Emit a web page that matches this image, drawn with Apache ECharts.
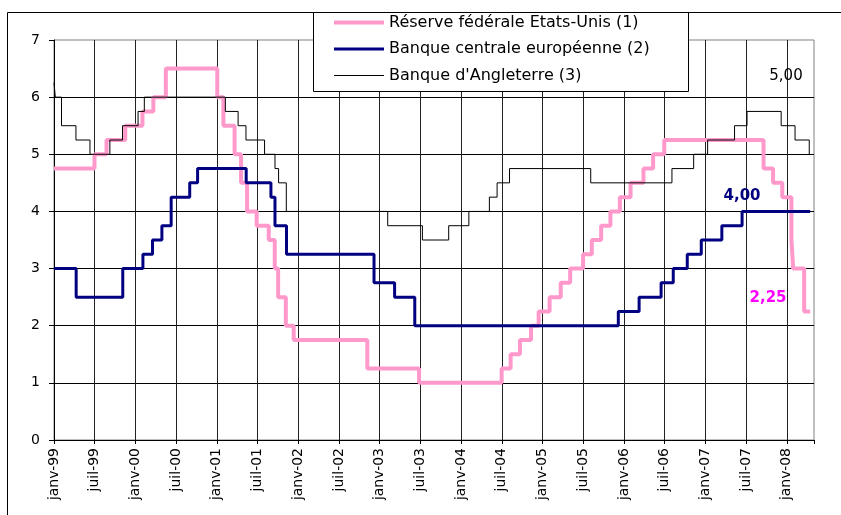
<!DOCTYPE html>
<html>
<head>
<meta charset="utf-8">
<script src="https://cdn.jsdelivr.net/npm/echarts@6/dist/echarts.min.js"></script>
<style>
  html, body { margin: 0; padding: 0; background: #fff; }
  #chart { width: 841px; height: 515px; }
</style>
</head>
<body>
<div id="chart"></div>
<script>
// dates of rate changes and the new rate, last entry = end of data
var fedDates = ['1999-01-01','1999-06-30','1999-08-24','1999-11-16','2000-02-02','2000-03-21','2000-05-16',
  '2001-01-03','2001-01-31','2001-03-20','2001-04-18','2001-05-15','2001-06-27','2001-08-21','2001-09-17',
  '2001-10-02','2001-11-06','2001-12-11','2002-11-06','2003-06-25','2004-06-30','2004-08-10','2004-09-21',
  '2004-11-10','2004-12-14','2005-02-02','2005-03-22','2005-05-03','2005-06-30','2005-08-09','2005-09-20',
  '2005-11-01','2005-12-13','2006-01-31','2006-03-28','2006-05-10','2006-06-29','2007-09-18','2007-10-31',
  '2007-12-11','2008-01-22','2008-01-30','2008-03-18','2008-04-14'];
var fedRates = [4.75,5.00,5.25,5.50,5.75,6.00,6.50,
  6.00,5.50,5.00,4.50,4.00,3.75,3.50,3.00,
  2.50,2.00,1.75,1.25,1.00,1.25,1.50,1.75,
  2.00,2.25,2.50,2.75,3.00,3.25,3.50,3.75,
  4.00,4.25,4.50,4.75,5.00,5.25,4.75,4.50,
  4.25,3.50,3.00,2.25,2.25];

var ecbDates = ['1999-01-01','1999-04-09','1999-11-05','2000-02-04','2000-03-17','2000-04-28','2000-06-09',
  '2000-09-01','2000-10-06','2001-05-11','2001-08-31','2001-09-18','2001-11-09','2002-12-06','2003-03-07',
  '2003-06-06','2005-12-06','2006-03-08','2006-06-15','2006-08-09','2006-10-11','2006-12-13','2007-03-14',
  '2007-06-13','2008-04-14'];
var ecbRates = [3.00,2.50,3.00,3.25,3.50,3.75,4.25,
  4.50,4.75,4.50,4.25,3.75,3.25,2.75,2.50,
  2.00,2.25,2.50,2.75,3.00,3.25,3.50,3.75,
  4.00,4.00];

var boeDates = ['1999-01-01','1999-01-07','1999-02-04','1999-04-08','1999-06-10','1999-09-08','1999-11-04',
  '2000-01-13','2000-02-10','2001-02-08','2001-04-05','2001-05-10','2001-08-02','2001-09-18','2001-10-04',
  '2001-11-08','2003-02-06','2003-07-10','2003-11-06','2004-02-05','2004-05-06','2004-06-10','2004-08-05',
  '2005-08-04','2006-08-03','2006-11-09','2007-01-11','2007-05-10','2007-07-05','2007-12-06','2008-02-07',
  '2008-04-10','2008-04-14'];
var boeRates = [6.25,6.00,5.50,5.25,5.00,5.25,5.50,
  5.75,6.00,5.75,5.50,5.25,5.00,4.75,4.50,
  4.00,3.75,3.50,3.75,4.00,4.25,4.50,4.75,
  4.50,4.75,5.00,5.25,5.50,5.75,5.50,5.25,
  5.00,5.00];

var seriesNames = ['Réserve fédérale Etats-Unis (1)', 'Banque centrale européenne (2)', "Banque d'Angleterre (3)"];
var lastLabels = ['2,25', '4,00', '5,00'];
var monthNames = ['janv', 'juil'];

var FONT = 'DejaVu Sans';

// months since janv-99 (fraction of month for the day)
function monthIndex(s) {
    var p = s.split('-');
    var y = +p[0], m = +p[1], d = +p[2];
    var days = new Date(y, m, 0).getDate();
    return (y - 1999) * 12 + (m - 1) + (d - 1) / days;
}
function toPoints(dates, rates) {
    return dates.map(function (d, i) { return [monthIndex(d), rates[i]]; });
}

var chart = echarts.init(document.getElementById('chart'));

var option = {
    backgroundColor: '#fff',
    animation: false,
    grid: {
        left: 54, top: 40, right: 27, bottom: 75,
        show: true, borderColor: '#808080', borderWidth: 1
    },
    legend: {
        orient: 'vertical',
        left: 332, top: 14,
        padding: 0,
        itemWidth: 50, itemHeight: 14, itemGap: 9.5,
        selectedMode: false,
        itemStyle: { opacity: 0 },
        textStyle: { fontFamily: FONT, fontSize: 16, lineHeight: 17, color: '#000' },
        data: [
            { name: seriesNames[0], lineStyle: { width: 4, opacity: 1 } },
            { name: seriesNames[1], lineStyle: { width: 3, opacity: 1 } },
            { name: seriesNames[2], lineStyle: { width: 1, opacity: 1 } }
        ]
    },
    xAxis: {
        type: 'value',
        min: 0, max: 112, interval: 6,
        axisLine: { lineStyle: { color: '#000', width: 1 } },
        axisTick: { length: 4, lineStyle: { color: '#000' } },
        axisLabel: {
            rotate: 90, margin: 8, color: '#000',
            fontFamily: FONT, fontSize: 14,
            formatter: function (v) {
                if (v % 6 !== 0) return '';
                var yr = (1999 + Math.floor(v / 12)) % 100;
                return monthNames[(v % 12) / 6] + '-' + (yr < 10 ? '0' + yr : yr);
            }
        },
        splitLine: { show: true, showMaxLine: false, lineStyle: { color: '#222', width: 1 } }
    },
    yAxis: {
        type: 'value',
        min: 0, max: 7, interval: 1,
        axisLine: { show: true, lineStyle: { color: '#000', width: 1 } },
        axisTick: { show: true, length: 5, lineStyle: { color: '#000' } },
        axisLabel: { margin: 14, color: '#000', fontFamily: FONT, fontSize: 14 },
        splitLine: { show: true, showMaxLine: false, lineStyle: { color: '#000', width: 1 } }
    },
    series: [
        {
            name: seriesNames[0], type: 'line', step: 'end', symbol: 'none', z: 3,
            lineStyle: { color: '#FF99CC', width: 4 }, itemStyle: { color: '#FF99CC' },
            data: toPoints(fedDates, fedRates)
        },
        {
            name: seriesNames[1], type: 'line', step: 'end', symbol: 'none', z: 4,
            lineStyle: { color: '#000080', width: 3 }, itemStyle: { color: '#000080' },
            data: toPoints(ecbDates, ecbRates)
        },
        {
            name: seriesNames[2], type: 'line', step: 'end', symbol: 'none', z: 5,
            lineStyle: { color: '#000', width: 1 }, itemStyle: { color: '#000' },
            data: toPoints(boeDates, boeRates)
        }
    ],
    graphic: [
        // outer chart frame
        { type: 'rect', z: 0, silent: true,
          shape: { x: 7.5, y: 12.5, width: 900, height: 600 },
          style: { fill: null, stroke: '#000', lineWidth: 1 } },
        // legend box
        { type: 'rect', z: 3, silent: true,
          shape: { x: 313.5, y: 12.5, width: 375, height: 79 },
          style: { fill: '#fff', stroke: '#000', lineWidth: 1 } },
        { type: 'text', z: 6, silent: true, x: 786, y: 76,
          style: { text: lastLabels[2], fill: '#000', font: '15px ' + FONT, textAlign: 'center', textVerticalAlign: 'middle' } },
        { type: 'text', z: 6, silent: true, x: 742, y: 196,
          style: { text: lastLabels[1], fill: '#000080', font: 'bold 15px ' + FONT, textAlign: 'center', textVerticalAlign: 'middle' } },
        { type: 'text', z: 6, silent: true, x: 768, y: 298,
          style: { text: lastLabels[0], fill: '#FF00FF', font: 'bold 15px ' + FONT, textAlign: 'center', textVerticalAlign: 'middle' } }
    ]
};

chart.setOption(option);
</script>
</body>
</html>
